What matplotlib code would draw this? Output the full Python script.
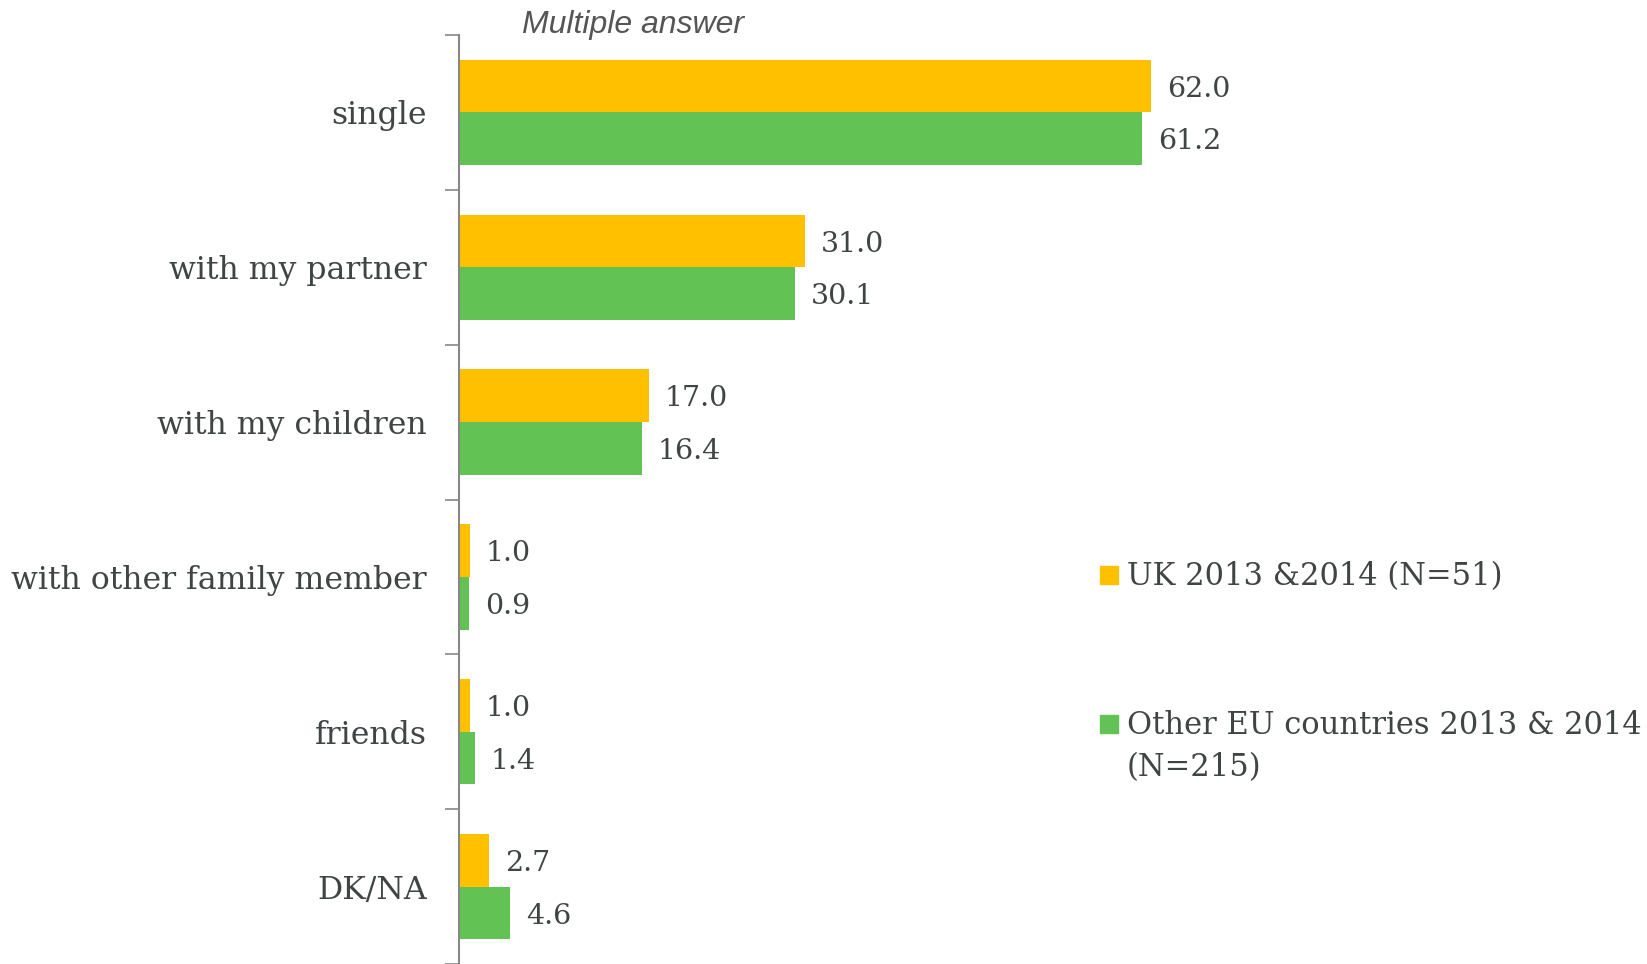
import numpy as np
import matplotlib
matplotlib.use("Agg")
import matplotlib.pyplot as plt
from matplotlib.patches import Rectangle

categories = ["single", "with my partner", "with my children",
              "with other family member", "friends", "DK/NA"]
uk = [62.0, 31.0, 17.0, 1.0, 1.0, 2.7]
eu = [61.2, 30.1, 16.4, 0.9, 1.4, 4.6]
series_labels = ["UK 2013 &2014 (N=51)", "Other EU countries 2013 & 2014\n(N=215)"]

C_UK, C_EU = "#FFC000", "#62C354"
TXT = "#3F4444"
SERIF = "DejaVu Serif"

fig = plt.figure(figsize=(16.47, 9.64), dpi=100)
ax = fig.add_axes([459/1647, 0, 1 - 459/1647, 1 - 35/964])

y = np.arange(len(categories))
h = 0.34
ax.barh(y - h/2, uk, height=h, color=C_UK)
ax.barh(y + h/2, eu, height=h, color=C_EU)

for yi, v in zip(y, uk):
    ax.text(v + 1.4, yi - h/2 + 0.02, f"{v:.1f}", va="center", ha="left",
            fontsize=20.5, color=TXT, family=SERIF)
for yi, v in zip(y, eu):
    ax.text(v + 1.4, yi + h/2 + 0.02, f"{v:.1f}", va="center", ha="left",
            fontsize=20.5, color=TXT, family=SERIF)

ax.set_ylim(len(categories) - 0.5, -0.5)
ax.set_xlim(0, 106.4)
ax.set_yticks(y)
ax.set_yticklabels(categories, fontsize=22.7, color=TXT, family=SERIF)
ax.set_yticks(np.arange(-0.5, len(categories), 1), minor=True)
ax.tick_params(axis="y", which="major", length=0, pad=23)
ax.tick_params(axis="y", which="minor", length=10, width=1.2, color="#888888")
ax.set_xticks([])
for s in ["top", "right", "bottom"]:
    ax.spines[s].set_visible(False)
ax.spines["left"].set_color("#888888")
ax.spines["left"].set_linewidth(1.5)

fig.text(522/1647, 1 - 25/964, "Multiple answer", fontsize=23, style="italic",
         family="Liberation Sans", color="#555555", ha="left", va="center")

# legend drawn by hand so the marker sits on the first text line
leg_y = [575, 724]
for lab, col, yy in zip(series_labels, [C_UK, C_EU], leg_y):
    fig.patches.append(Rectangle((1100/1647, 1 - (yy + 9)/964), 18/1647, 18/964,
                                 transform=fig.transFigure, color=col))
    fig.text(1127/1647, 1 - (yy - 13.5)/964, lab, fontsize=22, family=SERIF,
             color=TXT, ha="left", va="top", linespacing=1.45)

fig.savefig("out.png", dpi=100)
